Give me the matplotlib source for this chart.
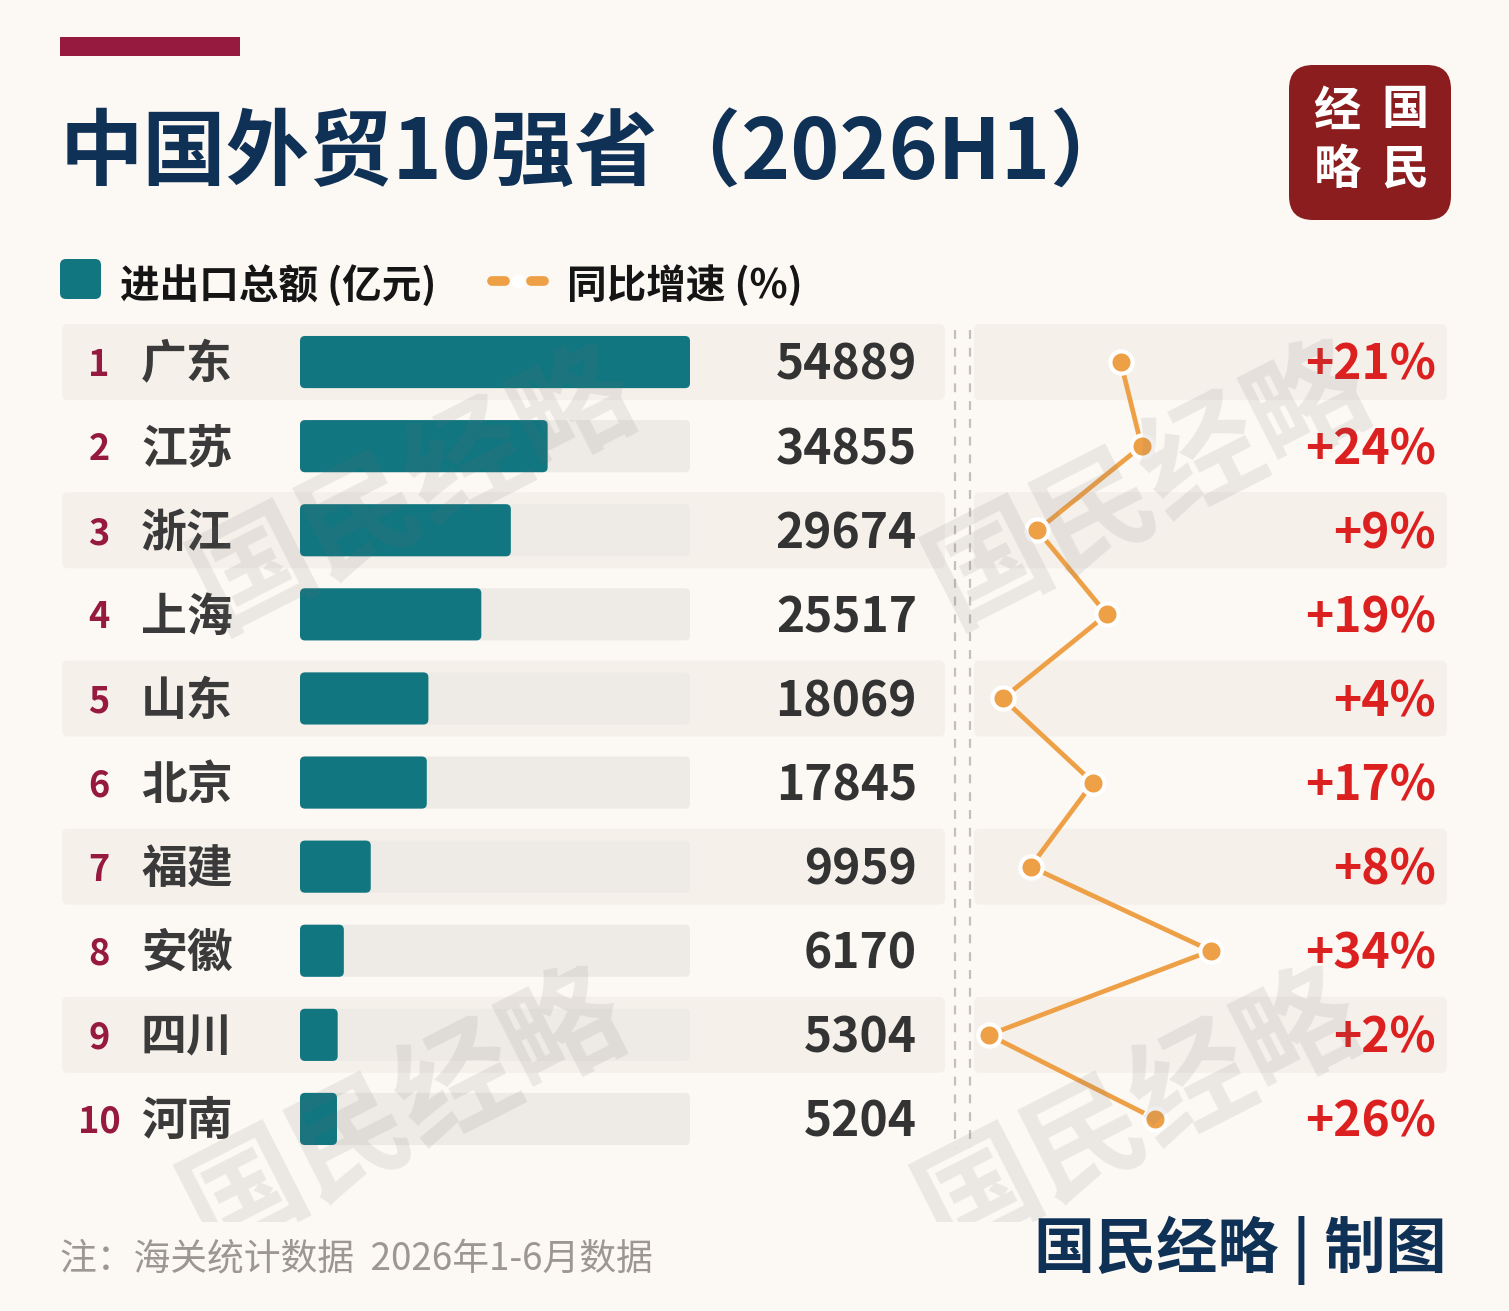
import matplotlib
matplotlib.use("Agg")
import matplotlib.pyplot as plt
from matplotlib.patches import FancyBboxPatch, Rectangle
from matplotlib.transforms import blended_transform_factory

plt.rcParams['font.family'] = ['Noto Sans CJK SC', 'DejaVu Sans']

# data
ranks = [1, 2, 3, 4, 5, 6, 7, 8, 9, 10]
provinces = ['广东', '江苏', '浙江', '上海', '山东', '北京', '福建', '安徽', '四川', '河南']
totals = [54889, 34855, 29674, 25517, 18069, 17845, 9959, 6170, 5304, 5204]
growth = [21, 24, 9, 19, 4, 17, 8, 34, 2, 26]

# colours
BG = '#fcf8f3'
BAND = '#f5f0ea'
TRACK = '#eeeae5'
TEAL = '#117680'
ORANGE = '#eea047'
RED = '#dc1f1f'
CRIMSON = '#961a40'
NAVY = '#0f3156'
DARK = '#333333'

W, H = 1509, 1311
fig = plt.figure(figsize=(W / 100, H / 100), dpi=100)
fig.patch.set_facecolor(BG)

# background layer in pixel coordinates
bg = fig.add_axes([0, 0, 1, 1], zorder=0)
bg.set_xlim(0, W)
bg.set_ylim(H, 0)
bg.axis('off')

row_top, row_h = 320, 84.1
n = len(provinces)

# alternating row bands
for i in range(0, n, 2):
    yc = row_top + row_h * (i + 0.5)
    for x0, x1 in [(62, 945), (974, 1447)]:
        bg.add_patch(FancyBboxPatch((x0, yc - 38), x1 - x0, 76,
                                    boxstyle="round,pad=0,rounding_size=6",
                                    fc=BAND, ec='none'))

# dashed separators
for xs in (955, 970):
    bg.plot([xs, xs], [330, 1148], color='#c4bfba', lw=1.6, ls=(0, (4, 4)))

# header decoration + title
bg.add_patch(Rectangle((60, 37), 180, 19, fc=CRIMSON, ec='none'))
bg.text(60, 154, '中国外贸10强省（2026H1）', fontsize=60, weight='heavy',
        color=NAVY, va='center', ha='left')

# logo
bg.add_patch(FancyBboxPatch((1289, 65), 162, 155,
                            boxstyle="round,pad=0,rounding_size=24",
                            fc='#8b1d1f', ec='none'))
for ch, (x, y) in zip('经国略民', [(1337, 112), (1405, 110), (1337, 170), (1405, 170)]):
    bg.text(x, y, ch, fontsize=34, color='white', weight='bold',
            ha='center', va='center')

# legend
bg.add_patch(FancyBboxPatch((60, 259), 41, 40, boxstyle="round,pad=0,rounding_size=6",
                            fc=TEAL, ec='none'))
bg.text(120, 286, '进出口总额 (亿元)', fontsize=28.5, weight='bold', color='#151515',
        va='center', ha='left')
bg.plot([492, 505], [281, 281], color=ORANGE, lw=7, solid_capstyle='round')
bg.plot([531, 544], [281, 281], color=ORANGE, lw=7, solid_capstyle='round')
bg.plot([518], [281], marker='o', ms=9, mfc='white', mec='white')
bg.text(567, 286, '同比增速 (%)', fontsize=28.5, weight='bold', color='#151515',
        va='center', ha='left')

# footer
bg.text(60, 1260, '注：海关统计数据  2026年1-6月数据', fontsize=26.5, color='#9c9792',
        va='center', ha='left')
bg.text(1447, 1250, '国民经略 | 制图', fontsize=44, weight='heavy', color=NAVY,
        va='center', ha='right')

# bar chart axes
ax = fig.add_axes([300 / W, 1 - (row_top + row_h * n) / H, 390 / W, row_h * n / H], zorder=1)
ax.set_xlim(0, max(totals))
ax.set_ylim(n - 0.5, -0.5)
ax.axis('off')
ypos = list(range(n))


def round_bars(ax, bars, r_px):
    x0, x1 = ax.get_xlim()
    y0, y1 = ax.get_ylim()
    bb = ax.get_window_extent()
    ux = (x1 - x0) / bb.width
    uy = abs(y1 - y0) / bb.height
    for b in bars:
        x, y = b.get_xy()
        p = FancyBboxPatch((x, y), b.get_width(), b.get_height(),
                           boxstyle=f"round,pad=0,rounding_size={r_px * ux}",
                           mutation_aspect=uy / ux, fc=b.get_facecolor(),
                           ec='none', zorder=b.get_zorder())
        b.remove()
        ax.add_patch(p)


tracks = ax.barh(ypos, [max(totals)] * n, height=0.62, color=TRACK, zorder=1)
bars = ax.barh(ypos, totals, height=0.62, color=TEAL, zorder=2)
round_bars(ax, tracks, 5)
round_bars(ax, bars, 5)

dy = 0.04  # small nudge so glyphs sit centred on the row
tr = blended_transform_factory(fig.transFigure, ax.transData)
for i, (r, name, v) in enumerate(zip(ranks, provinces, totals)):
    ax.text(99 / W, i + dy, str(r), transform=tr, ha='center', va='center',
            fontsize=26, weight='bold', color=CRIMSON, clip_on=False)
    ax.text(141 / W, i + dy, name, transform=tr, ha='left', va='center',
            fontsize=33, weight='bold', color='#3a3a3a', clip_on=False)
    ax.text(917 / W, i + dy, str(v), transform=tr, ha='right', va='center',
            fontsize=34.5, weight='bold', color=DARK, clip_on=False)

# growth line axes
lx = fig.add_axes([975 / W, 1 - (row_top + row_h * n) / H, 472 / W, row_h * n / H], zorder=2)
lx.set_xlim(0, 472 / 6.94)
lx.set_ylim(n - 0.5, -0.5)
lx.axis('off')
lx.patch.set_alpha(0)
lx.plot(growth, ypos, color=ORANGE, lw=3.4, marker='o', ms=16, mfc=ORANGE,
        mec='white', mew=3, clip_on=False, zorder=3)
ltr = blended_transform_factory(fig.transFigure, lx.transData)
for i, g in enumerate(growth):
    lx.text(1436 / W, i + dy, f'+{g}%', transform=ltr, ha='right', va='center',
            fontsize=34.5, weight='bold', color=RED, clip_on=False)

# watermarks
wm = fig.add_axes([0, 1 - 1222 / H, 1, 1222 / H], zorder=5)
wm.set_xlim(0, W)
wm.set_ylim(1222, 0)
wm.axis('off')
wm.patch.set_alpha(0)
for x, y in [(415, 490), (1150, 485), (405, 1112), (1140, 1112)]:
    wm.text(x, y, '国民经略', fontsize=86, weight='bold', color='#6f6f6f', alpha=0.12,
            rotation=27, ha='center', va='center', rotation_mode='anchor', clip_on=True)

fig.savefig('out.png', dpi=100, facecolor=BG)
